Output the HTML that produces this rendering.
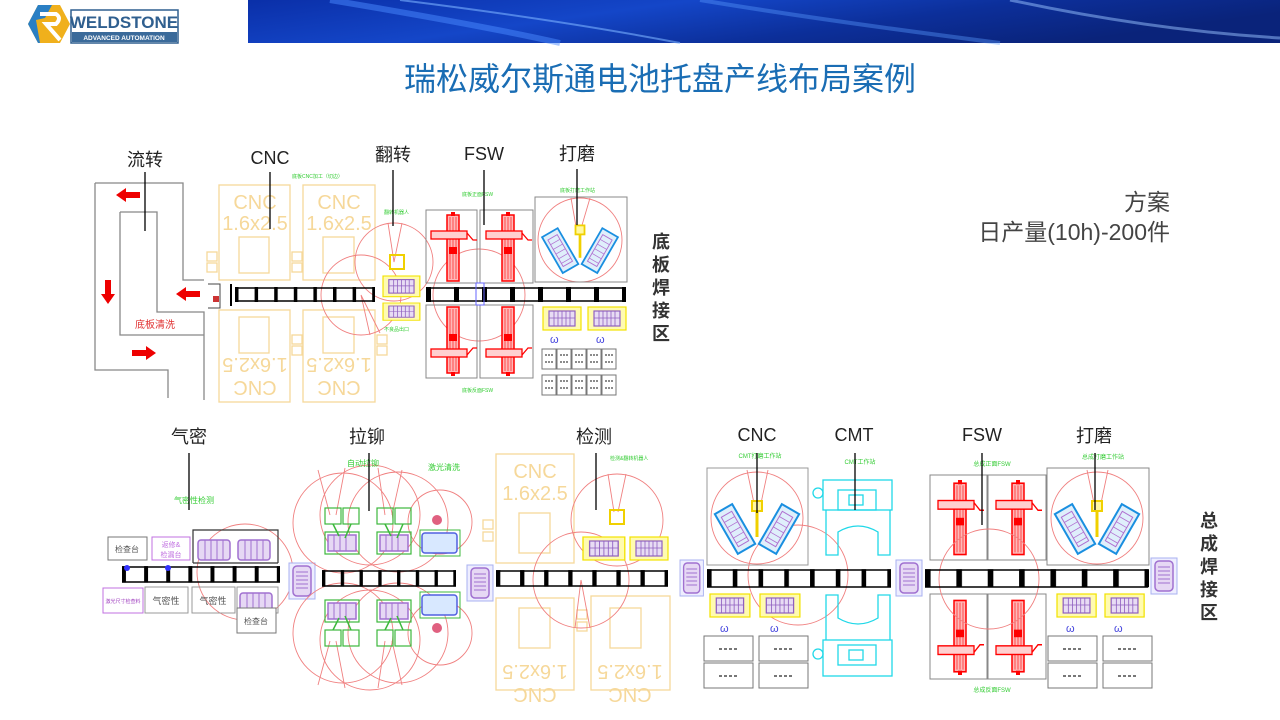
<!DOCTYPE html>
<html><head><meta charset="utf-8"><style>
html,body{margin:0;padding:0;background:#fff}
body{width:1280px;height:720px;overflow:hidden;position:relative;font-family:"Liberation Sans","Noto Sans CJK SC",sans-serif}
</style></head><body>
<svg width="1280" height="720" viewBox="0 0 1280 720" xmlns="http://www.w3.org/2000/svg" style="position:absolute;left:0;top:0">
<defs>
<linearGradient id="ban" x1="0" y1="0" x2="1" y2="0.3">
<stop offset="0" stop-color="#0a2fa8"/><stop offset="0.4" stop-color="#1446c8"/><stop offset="0.7" stop-color="#0c2f9a"/><stop offset="1" stop-color="#0a237a"/>
</linearGradient>
<pattern id="tick" x="0" y="0" width="14" height="20" patternUnits="userSpaceOnUse">
<rect x="0" y="1" width="2.5" height="15" fill="#000"/>
</pattern>
<g id="conv">
<rect x="0" y="0" width="100" height="17" fill="url(#tick)"/>
</g>
<g id="fsw">
<rect x="19" y="3" width="12" height="66" fill="#ffb8b8" stroke="#f00" stroke-width="1.5"/>
<line x1="22" y1="5" x2="22" y2="67" stroke="#f00" stroke-width="0.6"/><line x1="25" y1="5" x2="25" y2="67" stroke="#f00" stroke-width="0.6"/><line x1="28" y1="5" x2="28" y2="67" stroke="#f00" stroke-width="0.6"/>
<rect x="3" y="19" width="36" height="8" fill="#ffd0d0" stroke="#f00" stroke-width="1.3"/>
<polyline points="39,21 45,28 49,28" fill="none" stroke="#f00" stroke-width="1.3"/>
<rect x="21" y="35" width="8" height="7" fill="#f00"/>
<rect x="23" y="0" width="4" height="4" fill="#f00"/>
</g>
<g id="grind">
<g transform="translate(-22,14) rotate(-30)"><rect x="-10" y="-23" width="20" height="46" fill="#dfeffb" stroke="#1a8fe0" stroke-width="2"/><rect x="-6" y="-17" width="12" height="34" fill="none" stroke="#b070d0" stroke-width="1"/><path d="M-6,-11H6M-6,-5H6M-6,1H6M-6,7H6M-6,13H6" stroke="#b070d0" stroke-width="0.8"/></g>
<g transform="translate(22,14) rotate(30)"><rect x="-10" y="-23" width="20" height="46" fill="#dfeffb" stroke="#1a8fe0" stroke-width="2"/><rect x="-6" y="-17" width="12" height="34" fill="none" stroke="#b070d0" stroke-width="1"/><path d="M-6,-11H6M-6,-5H6M-6,1H6M-6,7H6M-6,13H6" stroke="#b070d0" stroke-width="0.8"/></g>
<rect x="-5" y="-14" width="10" height="10" fill="#fff8a0" stroke="#f0d000" stroke-width="2"/>
<path d="M0,-4 L0,22" stroke="#f0d000" stroke-width="3"/>
</g>
<g id="fix">
<rect x="0" y="0" width="38" height="23" fill="#fffbb0" stroke="#f2e200" stroke-width="1.2"/>
<rect x="6" y="4" width="26" height="15" fill="#e8dcf4" stroke="#9060c0" stroke-width="1.2"/>
<path d="M11,4V19M15,4V19M19,4V19M23,4V19M27,4V19M6,11H32" stroke="#9060c0" stroke-width="0.8"/>
</g>
<g id="gb">
<rect x="0" y="0" width="14" height="20" fill="#fff" stroke="#777" stroke-width="1"/>
<path d="M3,6H11M3,13H11" stroke="#666" stroke-width="1.5" stroke-dasharray="2,1"/>
</g>
<g id="gb2">
<rect x="0" y="0" width="49" height="25" fill="#fff" stroke="#777" stroke-width="1"/>
<path d="M15,13H34" stroke="#777" stroke-width="2" stroke-dasharray="3,2"/>
</g>
<g id="xfer">
<rect x="0" y="0" width="26" height="36" fill="#eef" stroke="#a8b0f0" stroke-width="1"/>
<rect x="4" y="3" width="18" height="30" rx="4" fill="#e6d8f4" stroke="#a070d0" stroke-width="1.5"/>
<path d="M7,9H19M7,13H19M7,17H19M7,21H19M7,25H19" stroke="#a070d0" stroke-width="1"/>
</g>
<g id="rivet">
<rect x="0" y="0" width="16" height="16" fill="none" stroke="#3cb83c" stroke-width="1.2"/>
<rect x="18" y="0" width="16" height="16" fill="none" stroke="#3cb83c" stroke-width="1.2"/>
<rect x="0" y="24" width="34" height="22" fill="none" stroke="#3cb83c" stroke-width="1.2"/>
<rect x="3" y="27" width="28" height="16" fill="#e6d8f4" stroke="#a070d0" stroke-width="1.5"/>
<path d="M9,27V43M15,27V43M21,27V43" stroke="#a070d0"/>
<path d="M8,16L14,28M26,16L20,30" stroke="#3cb83c" stroke-width="1.5"/>
</g>
</defs>

<!-- header -->
<rect x="248" y="0" width="1032" height="43" fill="url(#ban)"/>
<path d="M330,0 Q480,25 560,43" stroke="#4a8aff" stroke-width="6" fill="none" opacity="0.5"/>
<path d="M400,0 Q560,20 680,43" stroke="#7ab0ff" stroke-width="2" fill="none" opacity="0.6"/>
<path d="M700,0 Q820,20 1000,43" stroke="#5a9aff" stroke-width="4" fill="none" opacity="0.4"/>
<path d="M1010,0 Q1150,30 1280,38" stroke="#9ac4ff" stroke-width="3" fill="none" opacity="0.5"/>
<polygon points="38,5 60,5 70,24 60,43 38,43 28,24" fill="#f0b01c"/>
<polygon points="28,24 38,5 52,5 45,18 36,20 40,43 38,43" fill="#2a7fc4"/>
<path d="M40,14 H56 Q62,18 56,24 H46 L60,40" stroke="#fff" stroke-width="4" fill="none"/>
<rect x="71" y="10" width="107" height="33" fill="#fff" stroke="#2f5f8f" stroke-width="1.5"/>
<text x="124" y="28" font-size="17" font-weight="bold" fill="#2f5f8f" text-anchor="middle" font-family="Liberation Sans, sans-serif">WELDSTONE</text>
<rect x="72" y="32" width="105" height="10" fill="#3a6a9a"/>
<text x="124" y="40" font-size="6.5" font-weight="bold" fill="#fff" text-anchor="middle">ADVANCED AUTOMATION</text>

<text x="660" y="90" font-size="32" fill="#1a6db4" text-anchor="middle">瑞松威尔斯通电池托盘产线布局案例</text>

<text x="1170" y="210" font-size="23" fill="#444" text-anchor="end">方案</text>
<text x="1170" y="240" font-size="23" fill="#444" text-anchor="end">日产量(10h)-200件</text>

<g font-size="18" fill="#333" font-weight="bold" text-anchor="middle">
<text x="661" y="248">底</text><text x="661" y="271">板</text><text x="661" y="294">焊</text><text x="661" y="317">接</text><text x="661" y="340">区</text>
<text x="1209" y="527">总</text><text x="1209" y="550">成</text><text x="1209" y="573">焊</text><text x="1209" y="596">接</text><text x="1209" y="619">区</text>
</g>

<!-- ===== TOP LAYOUT ===== -->
<g fill="none" stroke="#888" stroke-width="1.3">
<path d="M95,183 H183 V280 H204"/>
<path d="M95,183 V370 H168 V398"/>
<path d="M120,212 H157 V312 H204 V400"/>
<path d="M120,212 V335 H204"/>
</g>
<g fill="#e00">
<polygon points="116,195 126,188 126,192 140,192 140,198 126,198 126,202"/>
<polygon points="108,304 101,294 105,294 105,280 111,280 111,294 115,294"/>
<polygon points="176,294 186,287 186,291 200,291 200,297 186,297 186,301"/>
<polygon points="156,353 146,346 146,350 132,350 132,356 146,356 146,360"/>
</g>
<text x="155" y="328" font-size="10" fill="#e03030" text-anchor="middle">底板清洗</text>

<g fill="none" stroke="#f6d89a" stroke-width="1.3">
<rect x="219" y="185" width="71" height="95"/><rect x="303" y="185" width="72" height="95"/>
<rect x="219" y="310" width="71" height="92"/><rect x="303" y="310" width="72" height="92"/>
<rect x="239" y="237" width="30" height="36"/><rect x="323" y="237" width="31" height="36"/>
<rect x="239" y="317" width="30" height="36"/><rect x="323" y="317" width="31" height="36"/>
<rect x="207" y="252" width="10" height="9"/><rect x="207" y="263" width="10" height="9"/>
<rect x="292" y="252" width="10" height="9"/><rect x="292" y="263" width="10" height="9"/>
<rect x="292" y="335" width="10" height="9"/><rect x="292" y="346" width="10" height="9"/>
<rect x="377" y="335" width="10" height="9"/><rect x="377" y="346" width="10" height="9"/>
</g>
<g fill="#f6d89a" font-size="20" text-anchor="middle">
<text x="255" y="209">CNC</text><text x="255" y="230">1.6x2.5</text>
<text x="339" y="209">CNC</text><text x="339" y="230">1.6x2.5</text>
<text transform="translate(255,358) rotate(180)">1.6x2.5</text><text transform="translate(255,381) rotate(180)">CNC</text>
<text transform="translate(339,358) rotate(180)">1.6x2.5</text><text transform="translate(339,381) rotate(180)">CNC</text>
</g>
<text x="292" y="178" font-size="5" fill="#3c3">底板CNC加工（切边）</text>

<g fill="none" stroke="#f08080" stroke-width="0.9">
<circle cx="394" cy="262" r="39"/><path d="M394,262 L388,223 M394,262 L402,223"/>
<circle cx="361" cy="295" r="40"/><path d="M361,295 L370,335 M361,295 L380,333"/>
<circle cx="479" cy="295" r="46"/>
<circle cx="580" cy="240" r="42"/><path d="M577,232 L571,198 M580,232 L590,198"/>
</g>

<use href="#conv" transform="translate(235,286) scale(1.4,1)"/>
<use href="#conv" transform="translate(426,286) scale(2,1)"/>
<g stroke="#000" stroke-width="1.5"><path d="M235,288H375M235,301H375M426,288H626M426,301H626"/></g>
<path d="M208,284 h12 v24 h-12" fill="none" stroke="#444"/><rect x="213" y="296" width="6" height="6" fill="#c33"/>
<line x1="231" y1="284" x2="231" y2="306" stroke="#000" stroke-width="2"/>

<use href="#fix" transform="translate(383,276) scale(0.97,0.9)"/>
<use href="#fix" transform="translate(383,303) scale(0.97,0.75)"/>
<rect x="390" y="255" width="14" height="14" fill="none" stroke="#f0d000" stroke-width="2"/>
<text x="384" y="331" font-size="5" fill="#3c3">不良品出口</text>
<text x="384" y="214" font-size="5" fill="#3c3">翻转机器人</text>

<g fill="none" stroke="#888" stroke-width="1">
<rect x="426" y="210" width="51" height="73"/><rect x="480" y="210" width="53" height="73"/>
<rect x="426" y="305" width="51" height="73"/><rect x="480" y="305" width="53" height="73"/>
<rect x="535" y="197" width="92" height="85"/>
</g>
<use href="#fsw" transform="translate(428,212)"/>
<use href="#fsw" transform="translate(483,212)"/>
<use href="#fsw" transform="translate(428,376) scale(1,-1)"/>
<use href="#fsw" transform="translate(483,376) scale(1,-1)"/>
<text x="462" y="196" font-size="5" fill="#3c3">底板正面FSW</text>
<text x="462" y="392" font-size="5" fill="#3c3">底板反面FSW</text>
<text x="560" y="192" font-size="5" fill="#3c3">底板打磨工作站</text>
<use href="#grind" transform="translate(580,238) scale(0.9)"/>
<use href="#fix" transform="translate(543,307)"/>
<use href="#fix" transform="translate(588,307)"/>
<text x="550" y="343" font-size="11" fill="#44d">ω</text><text x="596" y="343" font-size="11" fill="#44d">ω</text>
<use href="#gb" transform="translate(542,349)"/><use href="#gb" transform="translate(557,349)"/><use href="#gb" transform="translate(572,349)"/><use href="#gb" transform="translate(587,349)"/><use href="#gb" transform="translate(602,349)"/>
<use href="#gb" transform="translate(542,375)"/><use href="#gb" transform="translate(557,375)"/><use href="#gb" transform="translate(572,375)"/><use href="#gb" transform="translate(587,375)"/><use href="#gb" transform="translate(602,375)"/>
<rect x="476" y="283" width="8" height="22" fill="none" stroke="#66f"/>

<!-- top labels -->
<g font-size="18" fill="#222" text-anchor="middle">
<text x="145" y="166">流转</text><text x="270" y="164" font-family="Liberation Sans, sans-serif">CNC</text><text x="393" y="161">翻转</text><text x="484" y="160" font-family="Liberation Sans, sans-serif">FSW</text><text x="577" y="160">打磨</text>
</g>
<g stroke="#000" stroke-width="1.3">
<path d="M145,172V231M270,172V229M393,170V226M484,170V225M577,169V225"/>
</g>

<!-- ===== BOTTOM LAYOUT ===== -->
<g fill="none" stroke="#f08080" stroke-width="0.9">
<circle cx="245" cy="572" r="48"/>
</g>
<rect x="108" y="537" width="39" height="23" fill="#fff" stroke="#777"/><text x="127" y="552" font-size="8" fill="#555" text-anchor="middle">检查台</text>
<rect x="152" y="537" width="38" height="23" fill="#fff" stroke="#c070e0"/><text x="171" y="547" font-size="7" fill="#c070e0" text-anchor="middle">返修&amp;</text><text x="171" y="557" font-size="7" fill="#c070e0" text-anchor="middle">检漏台</text>
<path d="M193,563V530H278V563M193,563H278" fill="none" stroke="#333" stroke-width="1.2"/>
<g fill="#e6d8f4" stroke="#a070d0" stroke-width="1.5"><rect x="198" y="540" width="32" height="20" rx="3"/><rect x="238" y="540" width="32" height="20" rx="3"/><rect x="240" y="593" width="32" height="20" rx="3"/></g>
<path d="M205,540V560M211,540V560M217,540V560M223,540V560M245,540V560M251,540V560M257,540V560M263,540V560M247,593V613M253,593V613M259,593V613M265,593V613" stroke="#a070d0"/>
<rect x="103" y="588" width="40" height="25" fill="#fff" stroke="#c070e0"/><text x="123" y="603" font-size="5" fill="#a040c0" text-anchor="middle">激光尺寸检查料</text>
<rect x="145" y="587" width="43" height="26" fill="none" stroke="#999"/><text x="166" y="604" font-size="9" fill="#555" text-anchor="middle">气密性</text>
<rect x="192" y="587" width="43" height="26" fill="none" stroke="#999"/><text x="213" y="604" font-size="9" fill="#555" text-anchor="middle">气密性</text>
<rect x="237" y="587" width="41" height="26" fill="none" stroke="#999"/>
<rect x="237" y="608" width="39" height="25" fill="#fff" stroke="#777"/><text x="256" y="624" font-size="8" fill="#555" text-anchor="middle">检查台</text>
<text x="194" y="503" font-size="8" fill="#3c3" text-anchor="middle">气密性检测</text>
<use href="#conv" transform="translate(122,565) scale(1.58,1.1)"/>
<g stroke="#000" stroke-width="1.5"><path d="M122,567H280M122,582H280"/></g>
<circle cx="127" cy="568" r="3" fill="#33f"/><circle cx="168" cy="568" r="3" fill="#33f"/>

<use href="#xfer" transform="translate(289,563)"/>
<use href="#xfer" transform="translate(467,565)"/>
<use href="#xfer" transform="translate(680,560) scale(0.9,1)"/>
<use href="#xfer" transform="translate(896,560)"/>
<use href="#xfer" transform="translate(1151,558)"/>

<g fill="none" stroke="#f08080" stroke-width="0.9">
<circle cx="343" cy="523" r="50"/><circle cx="370" cy="515" r="50"/><circle cx="398" cy="522" r="50"/><circle cx="440" cy="522" r="32"/>
<circle cx="343" cy="633" r="50"/><circle cx="370" cy="640" r="50"/><circle cx="398" cy="633" r="50"/><circle cx="440" cy="633" r="32"/>
<path d="M330,515 L318,470 M336,515 L345,468 M385,515 L378,468 M392,515 L402,470 M330,641 L318,685 M336,641 L345,688 M385,641 L378,688 M392,641 L402,685"/>
</g>
<use href="#rivet" transform="translate(325,508)"/>
<use href="#rivet" transform="translate(377,508)"/>
<use href="#rivet" transform="translate(325,646) scale(1,-1)"/>
<use href="#rivet" transform="translate(377,646) scale(1,-1)"/>
<g fill="#d8e8ff" stroke="#5060e0" stroke-width="1.5"><rect x="422" y="533" width="35" height="20" rx="3"/><rect x="422" y="595" width="35" height="20" rx="3"/></g>
<rect x="420" y="530" width="40" height="26" fill="none" stroke="#3cb83c"/><rect x="420" y="592" width="40" height="26" fill="none" stroke="#3cb83c"/>
<circle cx="437" cy="520" r="5" fill="#e06080"/><circle cx="437" cy="628" r="5" fill="#e06080"/>
<text x="363" y="466" font-size="8" fill="#3c3" text-anchor="middle">自动拉铆</text>
<text x="444" y="470" font-size="8" fill="#3c3" text-anchor="middle">激光清洗</text>
<use href="#conv" transform="translate(322,569) scale(1.34,1.1)"/>
<g stroke="#000" stroke-width="1.5"><path d="M322,571H456M322,586H456"/></g>

<g fill="none" stroke="#f6d89a" stroke-width="1.3">
<rect x="496" y="454" width="78" height="109"/><rect x="496" y="598" width="78" height="92"/><rect x="591" y="596" width="79" height="94"/>
<rect x="519" y="513" width="31" height="40"/><rect x="519" y="608" width="31" height="40"/><rect x="610" y="608" width="31" height="40"/>
<rect x="483" y="520" width="10" height="9"/><rect x="483" y="532" width="10" height="9"/>
<rect x="577" y="610" width="10" height="9"/><rect x="577" y="622" width="10" height="9"/>
</g>
<g fill="#f6d89a" font-size="20" text-anchor="middle">
<text x="535" y="478">CNC</text><text x="535" y="500">1.6x2.5</text>
<text transform="translate(535,665) rotate(180)">1.6x2.5</text><text transform="translate(535,688) rotate(180)">CNC</text>
<text transform="translate(630,665) rotate(180)">1.6x2.5</text><text transform="translate(630,688) rotate(180)">CNC</text>
</g>
<g fill="none" stroke="#f08080" stroke-width="0.9">
<circle cx="617" cy="520" r="46"/><path d="M614,512 L608,474 M618,512 L626,474"/>
<circle cx="581" cy="580" r="48"/><path d="M581,580 L575,628 M581,580 L590,628"/>
</g>
<rect x="610" y="510" width="14" height="14" fill="none" stroke="#f0d000" stroke-width="2"/>
<use href="#fix" transform="translate(583,537) scale(1.1,1)"/>
<use href="#fix" transform="translate(630,537)"/>
<text x="610" y="460" font-size="5" fill="#3c3">检测&amp;翻转机器人</text>
<use href="#conv" transform="translate(496,569) scale(1.72,1.1)"/>
<g stroke="#000" stroke-width="1.5"><path d="M496,571H668M496,586H668"/></g>

<rect x="707" y="468" width="101" height="97" fill="none" stroke="#999"/>
<g fill="none" stroke="#f08080" stroke-width="0.9">
<circle cx="757" cy="518" r="46"/><path d="M755,508 L747,470 M760,508 L768,470"/>
<circle cx="798" cy="575" r="50"/>
</g>
<use href="#grind" transform="translate(757,515)"/>
<use href="#fix" transform="translate(710,594) scale(1.05,1)"/>
<use href="#fix" transform="translate(760,594) scale(1.05,1)"/>
<text x="720" y="632" font-size="11" fill="#44d">ω</text><text x="770" y="632" font-size="11" fill="#44d">ω</text>
<use href="#gb2" transform="translate(704,636)"/><use href="#gb2" transform="translate(759,636)"/>
<use href="#gb2" transform="translate(704,663)"/><use href="#gb2" transform="translate(759,663)"/>
<text x="760" y="458" font-size="6" fill="#3c3" text-anchor="middle">CMT打磨工作站</text>

<g fill="none" stroke="#20d8e8" stroke-width="1.3">
<rect x="823" y="480" width="69" height="30"/><rect x="838" y="490" width="38" height="20"/><rect x="849" y="495" width="14" height="10"/>
<path d="M826,510 V555 H838 V532 Q858,520 878,532 V555 H890 V510"/>
<circle cx="818" cy="493" r="5"/>
<rect x="823" y="640" width="69" height="36"/><rect x="838" y="645" width="38" height="20"/><rect x="849" y="650" width="14" height="10"/>
<path d="M826,640 V595 H838 V618 Q858,630 878,618 V595 H890 V640"/>
<circle cx="818" cy="654" r="5"/>
</g>
<text x="860" y="464" font-size="6" fill="#3c3" text-anchor="middle">CMT工作站</text>
<use href="#conv" transform="translate(707,568) scale(1.84,1.2)"/>
<g stroke="#000" stroke-width="1.5"><path d="M707,570H891M707,587H891"/></g>

<g fill="none" stroke="#888" stroke-width="1">
<rect x="930" y="475" width="57" height="85"/><rect x="988" y="475" width="58" height="85"/>
<rect x="930" y="594" width="57" height="85"/><rect x="988" y="594" width="58" height="85"/>
<rect x="1047" y="468" width="102" height="97"/>
</g>
<use href="#fsw" transform="translate(935,480) scale(1,1.08)"/>
<use href="#fsw" transform="translate(993,480) scale(1,1.08)"/>
<use href="#fsw" transform="translate(935,675) scale(1,-1.08)"/>
<use href="#fsw" transform="translate(993,675) scale(1,-1.08)"/>
<g fill="none" stroke="#f08080" stroke-width="0.9">
<circle cx="989" cy="579" r="50"/>
<circle cx="1097" cy="518" r="46"/><path d="M1095,508 L1087,470 M1100,508 L1108,470"/>
</g>
<text x="992" y="466" font-size="6" fill="#3c3" text-anchor="middle">总成正面FSW</text>
<text x="992" y="692" font-size="6" fill="#3c3" text-anchor="middle">总成反面FSW</text>
<text x="1103" y="459" font-size="6" fill="#3c3" text-anchor="middle">总成打磨工作站</text>
<use href="#grind" transform="translate(1097,515)"/>
<use href="#fix" transform="translate(1057,594) scale(1.03,1)"/>
<use href="#fix" transform="translate(1105,594) scale(1.03,1)"/>
<text x="1066" y="632" font-size="11" fill="#44d">ω</text><text x="1114" y="632" font-size="11" fill="#44d">ω</text>
<use href="#gb2" transform="translate(1048,636)"/><use href="#gb2" transform="translate(1103,636)"/>
<use href="#gb2" transform="translate(1048,663)"/><use href="#gb2" transform="translate(1103,663)"/>
<use href="#conv" transform="translate(925,568) scale(2.24,1.2)"/>
<g stroke="#000" stroke-width="1.5"><path d="M925,570H1148M925,587H1148"/></g>

<g font-size="18" fill="#222" text-anchor="middle">
<text x="189" y="443">气密</text><text x="367" y="443">拉铆</text><text x="594" y="443">检测</text>
<text x="757" y="441" font-family="Liberation Sans, sans-serif">CNC</text><text x="854" y="441" font-family="Liberation Sans, sans-serif">CMT</text><text x="982" y="441" font-family="Liberation Sans, sans-serif">FSW</text><text x="1094" y="442">打磨</text>
</g>
<g stroke="#000" stroke-width="1.3">
<path d="M189,453V510M369,453V511M596,453V510M757,453V513M855,453V510M982,453V525M1095,453V510"/>
</g>
</svg>
</body></html>
